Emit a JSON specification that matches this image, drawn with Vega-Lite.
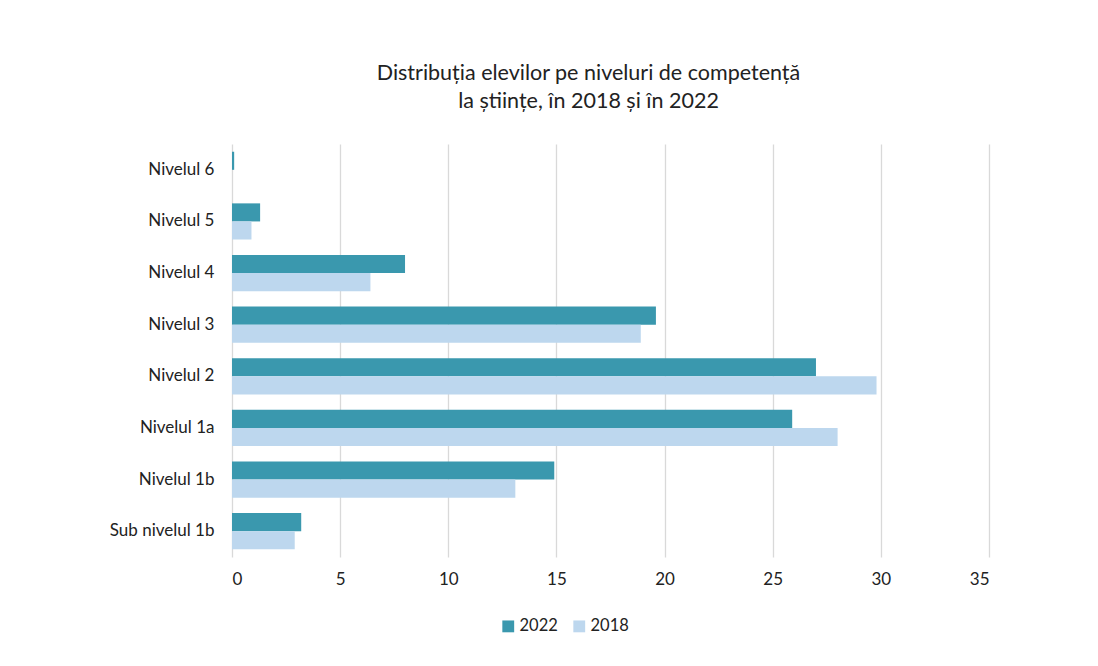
{
  "$schema": "https://vega.github.io/schema/vega-lite/v6.json",
  "width": 757,
  "height": 413,
  "autosize": {"type": "none"},
  "padding": {"left": 232, "top": 144, "right": 109, "bottom": 109},
  "background": "white",
  "title": {
    "text": ["Distribuția elevilor pe niveluri de competență", "la științe, în 2018 și în 2022"],
    "font": "Lato",
    "fontSize": 21.5,
    "fontWeight": "normal",
    "color": "#222222",
    "anchor": "middle",
    "frame": "group",
    "dx": -22,
    "offset": 32,
    "lineHeight": 28
  },
  "data": {
    "values": [
      {"nivel": "Nivelul 6", "an": "2022", "procent": 0.1},
      {"nivel": "Nivelul 6", "an": "2018", "procent": 0},
      {"nivel": "Nivelul 5", "an": "2022", "procent": 1.3},
      {"nivel": "Nivelul 5", "an": "2018", "procent": 0.9},
      {"nivel": "Nivelul 4", "an": "2022", "procent": 8.0},
      {"nivel": "Nivelul 4", "an": "2018", "procent": 6.4},
      {"nivel": "Nivelul 3", "an": "2022", "procent": 19.6},
      {"nivel": "Nivelul 3", "an": "2018", "procent": 18.9},
      {"nivel": "Nivelul 2", "an": "2022", "procent": 27.0},
      {"nivel": "Nivelul 2", "an": "2018", "procent": 29.8},
      {"nivel": "Nivelul 1a", "an": "2022", "procent": 25.9},
      {"nivel": "Nivelul 1a", "an": "2018", "procent": 28.0},
      {"nivel": "Nivelul 1b", "an": "2022", "procent": 14.9},
      {"nivel": "Nivelul 1b", "an": "2018", "procent": 13.1},
      {"nivel": "Sub nivelul 1b", "an": "2022", "procent": 3.2},
      {"nivel": "Sub nivelul 1b", "an": "2018", "procent": 2.9}
    ]
  },
  "mark": {"type": "bar"},
  "encoding": {
    "y": {
      "field": "nivel",
      "type": "nominal",
      "sort": ["Nivelul 6", "Nivelul 5", "Nivelul 4", "Nivelul 3", "Nivelul 2", "Nivelul 1a", "Nivelul 1b", "Sub nivelul 1b"],
      "scale": {"paddingInner": 0.3, "paddingOuter": 0.15},
      "axis": {
        "title": null,
        "ticks": false,
        "domain": false,
        "labelFont": "Lato",
        "labelFontSize": 17,
        "labelColor": "#222222",
        "labelPadding": 18
      }
    },
    "yOffset": {
      "field": "an",
      "type": "nominal",
      "sort": ["2022", "2018"]
    },
    "x": {
      "field": "procent",
      "type": "quantitative",
      "scale": {"domain": [0, 35], "nice": false},
      "axis": {
        "title": null,
        "values": [0, 5, 10, 15, 20, 25, 30, 35],
        "grid": true,
        "gridColor": "#D9D9D9",
        "gridWidth": 1.3,
        "domain": false,
        "ticks": false,
        "labelFont": "Lato",
        "labelFontSize": 17,
        "labelColor": "#222222",
        "labelPadding": 14
      }
    },
    "color": {
      "field": "an",
      "type": "nominal",
      "scale": {"domain": ["2022", "2018"], "range": ["#3A98AE", "#BDD7EE"]},
      "legend": {
        "title": null,
        "orient": "none",
        "direction": "horizontal",
        "legendX": 268,
        "legendY": 474,
        "symbolType": "square",
        "symbolSize": 140,
        "symbolStrokeWidth": 0,
        "labelFont": "Lato",
        "labelFontSize": 16.5,
        "labelColor": "#222222",
        "columnPadding": 13,
        "labelOffset": 3
      }
    }
  },
  "config": {
    "view": {"stroke": null}
  }
}
